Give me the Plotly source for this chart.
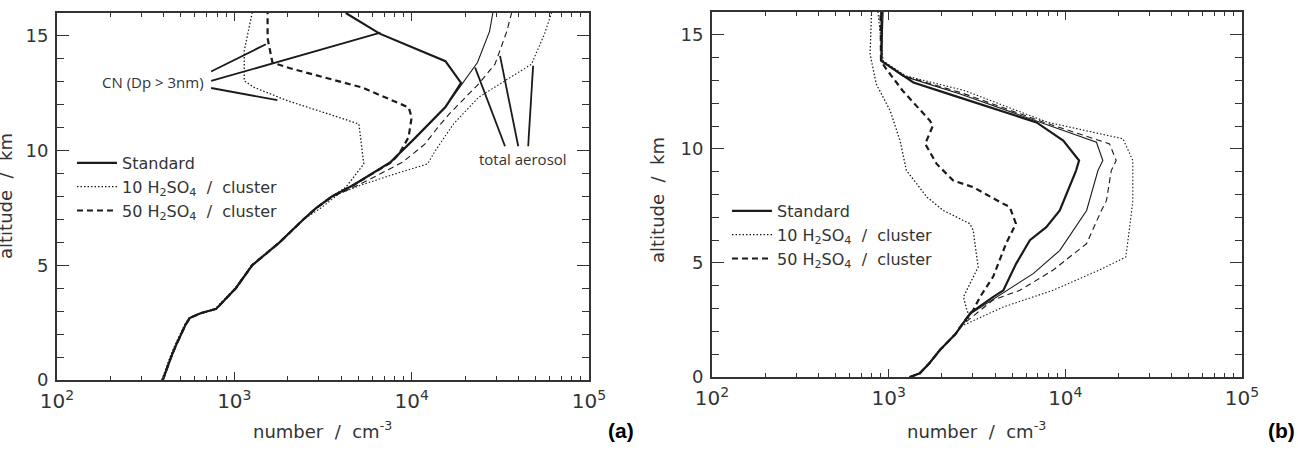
import plotly.graph_objects as go

# ---------------- Panel (a) ----------------
# CN (Dp > 3nm) profiles
a_std_cn_alt = [0, 0.5, 1, 1.5, 2, 2.4, 2.7, 2.9, 3.1, 4, 5, 6, 7, 7.5, 8, 8.5, 9.5, 10.5, 11.9, 12.95, 13.9, 15.1, 16]
a_std_cn_val = [395, 415, 440, 468, 500, 530, 560, 640, 790, 1020, 1260, 1800, 2450, 2900, 3550, 4700, 7600, 10300, 15500, 19000, 15500, 6600, 4250]

a_50_cn_alt = [0, 0.5, 1, 1.5, 2, 2.4, 2.7, 2.9, 3.1, 4, 5, 6, 7, 7.5, 8, 8.5, 9.5, 9.86, 10.58, 11.45, 11.88, 12.75, 13.6, 13.84, 14.9, 16]
a_50_cn_val = [395, 415, 440, 468, 500, 530, 560, 640, 790, 1020, 1260, 1800, 2450, 2900, 3550, 4700, 7700, 8500, 9600, 10000, 9620, 5270, 2040, 1640, 1540, 1540]

a_10_cn_alt = [0, 0.5, 1, 1.5, 2, 2.4, 2.7, 2.9, 3.1, 4, 5, 6, 7, 7.5, 8, 8.4, 9.42, 11.16, 11.59, 12.17, 12.75, 13.04, 14.35, 16]
a_10_cn_val = [390, 410, 435, 462, 495, 525, 555, 635, 780, 1010, 1250, 1790, 2440, 2900, 3550, 4250, 5370, 5040, 3420, 2000, 1300, 1137, 1137, 1260]

# total aerosol profiles
a_std_tot_alt = [0, 0.5, 1, 1.5, 2, 2.4, 2.7, 2.9, 3.1, 4, 5, 6, 7, 7.5, 8, 8.5, 9.5, 10.5, 11.9, 12.9, 13.84, 15.2, 16]
a_std_tot_val = [395, 415, 440, 468, 500, 530, 560, 640, 790, 1020, 1260, 1800, 2450, 2900, 3550, 4700, 7600, 10300, 15500, 19200, 23500, 27500, 28700]

a_50_tot_alt = [0, 0.5, 1, 1.5, 2, 2.4, 2.7, 2.9, 3.1, 4, 5, 6, 7, 7.5, 8, 8.5, 9.0, 9.5, 10.29, 11.0, 11.6, 12.3, 12.9, 13.77, 15.2, 16]
a_50_tot_val = [395, 415, 440, 468, 500, 530, 560, 640, 790, 1020, 1260, 1800, 2450, 2920, 3620, 5000, 6700, 8900, 11900, 14000, 16300, 20000, 23800, 29500, 34400, 36600]

a_10_tot_alt = [0, 0.5, 1, 1.5, 2, 2.4, 2.7, 2.9, 3.1, 4, 5, 6, 7, 7.54, 8.12, 8.5, 8.99, 9.42, 10.0, 11.16, 12.32, 13.77, 15.07, 16]
a_10_tot_val = [390, 410, 435, 462, 495, 525, 555, 635, 780, 1010, 1250, 1790, 2460, 3130, 3890, 5200, 8090, 12300, 13600, 17200, 23800, 47400, 56000, 61500]

# pointer lines (from label to curve) for panel (a)
a_cn_ptr1_val = [740, 1507]
a_cn_ptr1_alt = [13.45, 14.64]
a_cn_ptr2_val = [740, 6670]
a_cn_ptr2_alt = [13.04, 15.14]
a_cn_ptr3_val = [740, 1750]
a_cn_ptr3_alt = [12.73, 12.2]
a_tot_ptr1_val = [33600, 22800]
a_tot_ptr1_alt = [10.19, 13.62]
a_tot_ptr2_val = [39900, 31500]
a_tot_ptr2_alt = [10.19, 14.13]
a_tot_ptr3_val = [45400, 48400]
a_tot_ptr3_alt = [10.19, 13.7]

# ---------------- Panel (b) ----------------
b_std_cn_alt = [0, 0.16, 0.6, 1.18, 1.9, 2.4, 2.8, 3.51, 3.8, 4.97, 6.0, 6.57, 7.3, 9.05, 9.49, 10.36, 11.16, 12.4, 12.91, 13.86, 16]
b_std_cn_val = [1320, 1500, 1700, 1950, 2400, 2650, 2900, 3910, 4460, 5270, 6300, 7800, 9300, 11500, 11960, 9730, 6870, 2200, 1380, 910, 912]

b_std_tot_alt = [0, 0.16, 0.6, 1.18, 1.9, 2.4, 2.8, 3.51, 4.53, 5.55, 7.3, 9.05, 9.49, 10.29, 11.16, 12.41, 13.2, 13.86, 16]
b_std_tot_val = [1320, 1500, 1700, 1950, 2400, 2650, 2950, 4080, 6580, 9310, 13200, 15300, 16300, 15000, 7200, 2540, 1200, 910, 930]

b_50_cn_alt = [0, 0.16, 0.6, 1.18, 1.9, 2.4, 2.93, 3.51, 4.39, 5.85, 6.72, 7.45, 7.6, 8.2, 8.32, 8.61, 9.34, 10.22, 11.02, 11.24, 12.55, 13.57, 13.86, 16]
b_50_cn_val = [1320, 1500, 1700, 1950, 2400, 2650, 3010, 3290, 3900, 4620, 5250, 4850, 4440, 3250, 3010, 2320, 1870, 1610, 1780, 1710, 1200, 955, 905, 900]

b_50_tot_alt = [0, 0.16, 0.6, 1.18, 1.9, 2.2, 3.37, 3.8, 4.68, 5.85, 7.3, 7.74, 9.05, 9.49, 10.22, 11.16, 12.45, 13.2, 13.86, 16]
b_50_tot_val = [1320, 1500, 1700, 1950, 2400, 2530, 3890, 5530, 8510, 13200, 16000, 17100, 18200, 19400, 17800, 7600, 2600, 1220, 910, 920]

b_10_cn_alt = [0, 0.16, 0.6, 1.18, 1.9, 2.3, 2.64, 2.93, 3.51, 4.82, 6.43, 6.72, 7.3, 7.88, 9.05, 10.36, 11.67, 12.84, 14.15, 16]
b_10_cn_val = [1310, 1490, 1690, 1940, 2390, 2600, 2880, 2770, 2650, 3210, 3010, 2880, 2040, 1650, 1260, 1160, 1020, 851, 785, 800]

b_10_tot_alt = [0, 0.16, 0.6, 1.18, 1.9, 2.2, 3.07, 3.8, 4.68, 5.26, 7.0, 7.74, 9.49, 10.44, 11.16, 12.55, 13.2, 13.86, 16]
b_10_tot_val = [1310, 1490, 1690, 1940, 2400, 2530, 4460, 8500, 15500, 22000, 23500, 24100, 24100, 21200, 8000, 2700, 1250, 930, 870]

# tick labels
x_tickvals = [1e2, 1e3, 1e4, 1e5]
x_ticktext = ['10<sup>2</sup>', '10<sup>3</sup>', '10<sup>4</sup>', '10<sup>5</sup>']
x_minor = [m * 10 ** e for e in (2, 3, 4) for m in range(2, 10)]
y_tickvals = [0, 5, 10, 15]
y_ticktext = ['0', '5', '10', '15']

legend_names = ['Standard', '10 H<sub>2</sub>SO<sub>4</sub>  /  cluster', '50 H<sub>2</sub>SO<sub>4</sub>  /  cluster']

INK = '#1a1a1a'
FONT = 'DejaVu Sans'

fig = go.Figure()

def add(x, y, dash, width, xa, ya, name=None, legend=None, show=False):
    fig.add_trace(go.Scatter(
        x=x, y=y, mode='lines', xaxis=xa, yaxis=ya,
        line=dict(color=INK, width=width, dash=dash),
        name=name if name else '', showlegend=show,
        legend=legend if legend else 'legend', hoverinfo='skip'))

THICK = 2.2
THIN = 1.1
DASH = '6px,4px'
DOT = '1.5px,2px'

# panel a
add(a_std_tot_val, a_std_tot_alt, 'solid', THIN, 'x', 'y')
add(a_50_tot_val, a_50_tot_alt, DASH, THIN, 'x', 'y')
add(a_10_tot_val, a_10_tot_alt, DOT, THIN, 'x', 'y')
add(a_std_cn_val, a_std_cn_alt, 'solid', THICK, 'x', 'y', legend_names[0], 'legend', True)
add(a_10_cn_val, a_10_cn_alt, DOT, 1.3, 'x', 'y', legend_names[1], 'legend', True)
add(a_50_cn_val, a_50_cn_alt, DASH, THICK, 'x', 'y', legend_names[2], 'legend', True)
for px_, py_ in [(a_cn_ptr1_val, a_cn_ptr1_alt), (a_cn_ptr2_val, a_cn_ptr2_alt), (a_cn_ptr3_val, a_cn_ptr3_alt),
                 (a_tot_ptr1_val, a_tot_ptr1_alt), (a_tot_ptr2_val, a_tot_ptr2_alt), (a_tot_ptr3_val, a_tot_ptr3_alt)]:
    add(px_, py_, 'solid', 1.8, 'x', 'y')

# panel b
add(b_std_tot_val, b_std_tot_alt, 'solid', THIN, 'x2', 'y2')
add(b_50_tot_val, b_50_tot_alt, DASH, THIN, 'x2', 'y2')
add(b_10_tot_val, b_10_tot_alt, DOT, THIN, 'x2', 'y2')
add(b_std_cn_val, b_std_cn_alt, 'solid', THICK, 'x2', 'y2', legend_names[0], 'legend2', True)
add(b_10_cn_val, b_10_cn_alt, DOT, 1.3, 'x2', 'y2', legend_names[1], 'legend2', True)
add(b_50_cn_val, b_50_cn_alt, DASH, THICK, 'x2', 'y2', legend_names[2], 'legend2', True)

W, H = 1298, 462

def xaxis(dom, anchor):
    return dict(type='log', range=[2, 5], domain=dom, anchor=anchor, automargin=False,
                tickmode='array', tickvals=x_tickvals, ticktext=x_ticktext,
                ticks='inside', ticklen=8, tickwidth=1.3, tickcolor='#333',
                minor=dict(tickmode='array', tickvals=x_minor, ticks='inside', ticklen=4, tickwidth=1.2, tickcolor='#333', showgrid=False),
                showline=True, linecolor='#333', linewidth=1.8, mirror='ticks',
                showgrid=False, zeroline=False, ticklabelstandoff=2,
                tickfont=dict(family=FONT, size=20, color='#333'))

def yaxis(dom, anchor):
    return dict(range=[0, 16], domain=dom, anchor=anchor, automargin=False,
                tickmode='array', tickvals=y_tickvals, ticktext=y_ticktext,
                ticks='inside', ticklen=12, tickwidth=1.3, tickcolor='#333',
                minor=dict(dtick=1, tick0=0, ticks='inside', ticklen=7, tickwidth=1.2, tickcolor='#333', showgrid=False),
                showline=True, linecolor='#333', linewidth=1.8, mirror='ticks',
                showgrid=False, zeroline=False, ticklabelstandoff=3,
                tickfont=dict(family=FONT, size=18, color='#333'))

fig.update_layout(
    width=W, height=H, margin=dict(l=0, r=0, t=0, b=0, autoexpand=False),
    paper_bgcolor='white', plot_bgcolor='white',
    xaxis=xaxis([57 / W, 589 / W], 'y'),
    yaxis=yaxis([1 - 380 / H, 1 - 13 / H], 'x'),
    xaxis2=xaxis([712 / W, 1242 / W], 'y2'),
    yaxis2=yaxis([1 - 377 / H, 1 - 12 / H], 'x2'),
    legend=dict(x=72 / W, y=1 - 146 / H, xanchor='left', yanchor='top', bgcolor='rgba(0,0,0,0)',
                font=dict(family=FONT, size=16, color='#333'), itemwidth=40, tracegroupgap=0),
    legend2=dict(x=727 / W, y=1 - 194 / H, xanchor='left', yanchor='top', bgcolor='rgba(0,0,0,0)',
                 font=dict(family=FONT, size=16, color='#333'), itemwidth=40, tracegroupgap=0),
    showlegend=True,
)

ann = [
    dict(text='CN (Dp > 3nm)', x=206 / W, y=1 - 82 / H, xanchor='right', yanchor='middle',
         font=dict(family='Open Sans', size=15, color='#333')),
    dict(text='total aerosol', x=523 / W, y=1 - 159 / H, xanchor='center', yanchor='middle',
         font=dict(family='Open Sans', size=15, color='#333')),
    dict(text='number\u00a0 /\u00a0 cm<sup>-3</sup>', x=322 / W, y=1 - 430 / H, xanchor='center', yanchor='middle',
         font=dict(family=FONT, size=18, color='#333')),
    dict(text='number\u00a0 /\u00a0 cm<sup>-3</sup>', x=977 / W, y=1 - 430 / H, xanchor='center', yanchor='middle',
         font=dict(family=FONT, size=18, color='#333')),
    dict(text='altitude\u00a0 /\u00a0 km', x=5 / W, y=1 - 196 / H, xanchor='center', yanchor='middle', textangle=-90,
         font=dict(family=FONT, size=18, color='#333')),
    dict(text='altitude\u00a0 /\u00a0 km', x=657 / W, y=1 - 200 / H, xanchor='center', yanchor='middle', textangle=-90,
         font=dict(family=FONT, size=18, color='#333')),
    dict(text='<b>(a)</b>', x=621 / W, y=1 - 430 / H, xanchor='center', yanchor='middle',
         font=dict(family='Liberation Sans', size=21, color='black')),
    dict(text='<b>(b)</b>', x=1281 / W, y=1 - 430 / H, xanchor='center', yanchor='middle',
         font=dict(family='Liberation Sans', size=21, color='black')),
]
for a in ann:
    a.update(xref='paper', yref='paper', showarrow=False)
fig.update_layout(annotations=ann)

fig.write_html('out.html')
